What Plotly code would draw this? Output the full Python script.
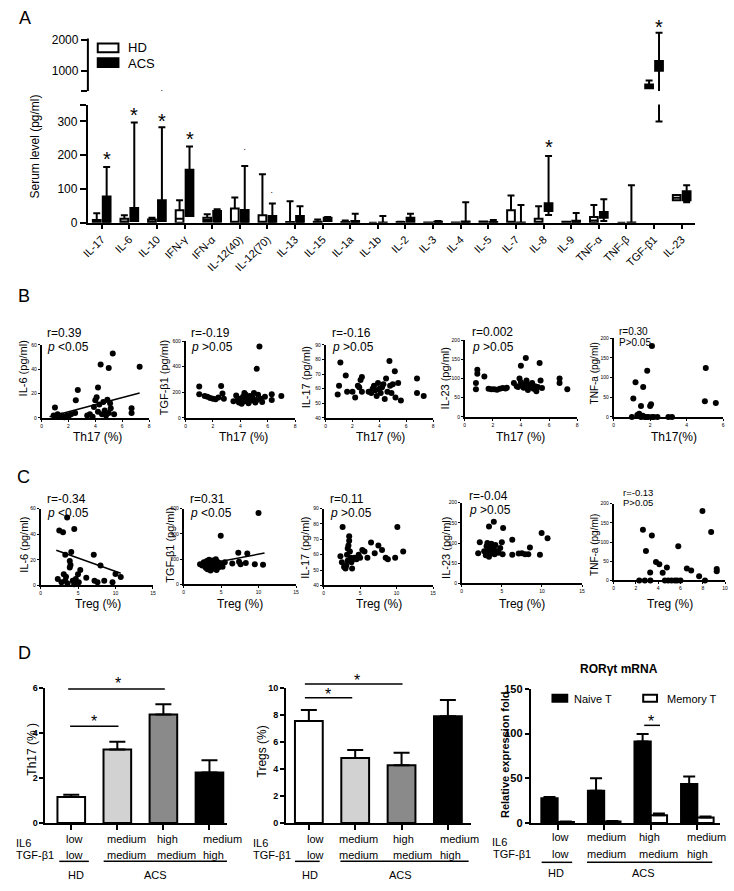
import plotly.graph_objects as go

W, H = 734, 891
FONT = "Liberation Sans, Arial, Helvetica, sans-serif"


def fx(p):
    return p / W


def fy(p):
    return 1 - p / H


# ---------------- Panel A data ----------------
cytokines = ["IL-17", "IL-6", "IL-10", "IFN-γ", "IFN-α", "IL-12(40)", "IL-12(70)", "IL-13", "IL-15",
             "IL-1a", "IL-1b", "IL-2", "IL-3", "IL-4", "IL-5", "IL-7", "IL-8", "IL-9", "TNF-α",
             "TNF-β", "TGF-β1", "IL-23"]
hd_lower = [0, 0, 0, 0, 3, 0, 0, 0, 0, 0, 0, 0, 0, 0, 0, 0, 0, 0, 0, 0, 440, 67]
hd_q1 = [0, 0, 0, 0, 3, 0, 0, 0, 0, 0, 0, 0, 0, 0, 0, 0, 0, 0, 0, 0, 440, 67]
hd_median = [0, 4, 3, 12, 8, 0, 0, 0, 0, 0, 0, 0, 0, 0, 0, 0, 0, 0, 7, 0, 500, 74]
hd_q3 = [8, 12, 10, 37, 15, 42, 22, 2, 3, 2, 0, 2, 1, 1, 4, 37, 12, 3, 17, 0, 560, 82]
hd_upper = [28, 22, 15, 67, 25, 75, 144, 64, 10, 7, 0, 3, 1, 1, 4, 81, 49, 3, 53, 0, 690, 82]
acs_lower = [0, 5, 5, 20, 0, 0, 0, 0, 5, 0, 0, 2, 0, 0, 0, 0, 23, 0, 5, 0, 300, 61]
acs_q1 = [0, 5, 5, 20, 3, 0, 0, 0, 5, 0, 0, 2, 0, 0, 0, 0, 35, 0, 15, 0, 1000, 67]
acs_median = [30, 15, 20, 80, 20, 15, 8, 8, 10, 2, 0, 6, 1, 1, 1, 0, 45, 2, 22, 0, 1150, 80]
acs_q3 = [78, 44, 67, 157, 35, 38, 20, 20, 15, 5, 1, 15, 3, 4, 2, 1, 58, 6, 32, 1, 1310, 93]
acs_upper = [165, 297, 283, 226, 40, 168, 57, 49, 17, 27, 20, 27, 5, 61, 8, 53, 198, 29, 70, 111, 2219, 111]
star_cytokines = ["IL-17", "IL-6", "IL-10", "IFN-γ", "IL-8", "TGF-β1"]
star_values = [190, 320, 301, 248, 224, 2406]
star_axis = ["y", "y", "y", "y", "y", "y2"]
outlier_cytokines = ["IL-10", "IL-12(40)", "IL-12(70)"]
outlier_values = [365, 218, 90]
outlier_axis = ["y2", "y", "y"]

# ---------------- Panel B data (x = Th17 %) ----------------
b1_th17 = [1.0, 0.9, 1.1, 1.2, 1.4, 1.5, 1.7, 1.9, 2.0, 2.2, 2.5, 2.55, 2.7, 3.4, 3.6, 3.8, 3.9, 4.0, 4.1,
           4.2, 4.2, 4.3, 4.4, 4.5, 4.6, 4.7, 4.8, 4.9, 5.0, 5.0, 5.1, 5.15, 5.3, 5.4, 6.7, 6.7, 7.3]
b1_il6 = [8.5, 2, 1, 3, 1, 2, 0.5, 2, 1, 3, 4, 14.5, 23, 2, 3, 1, 9, 14.5, 17, 25, 5, 11, 44, 3, 13, 6, 2,
          15, 41, 4, 12, 8, 53, 3, 8, 4, 42]
b1_fit_th17 = [0.6, 7.3]
b1_fit_il6 = [1.0, 20.5]
b2_th17 = [1.0, 1.0, 1.4, 1.6, 1.8, 2.0, 2.2, 2.4, 2.6, 2.7, 2.8, 3.5, 3.7, 3.8, 3.9, 4.0, 4.1, 4.2, 4.3,
           4.3, 4.4, 4.5, 4.6, 4.7, 4.8, 4.9, 5.0, 5.1, 5.2, 5.2, 5.3, 5.4, 5.5, 5.6, 5.8, 6.3, 6.3, 7.0]
b2_tgf = [245, 185, 170, 165, 155, 150, 145, 160, 250, 190, 150, 130, 175, 140, 120, 150, 110, 165, 195,
          130, 180, 145, 115, 170, 135, 155, 195, 120, 383, 140, 180, 557, 150, 125, 165, 185, 140, 170]
b3_th17 = [0.9, 1.0, 1.1, 1.5, 1.6, 2.0, 2.2, 2.4, 2.5, 2.6, 2.7, 2.7, 3.2, 3.4, 3.5, 3.6, 3.7, 3.8, 3.9,
           4.0, 4.1, 4.2, 4.3, 4.4, 4.5, 4.6, 4.75, 4.8, 4.9, 5.0, 5.15, 5.2, 5.4, 5.6, 6.8, 6.8, 7.3]
b3_il17 = [56, 62, 78, 69, 58, 58, 54, 62, 61, 66, 58, 68, 58, 57, 60, 62, 59, 55, 64, 60, 57, 61, 63, 53,
           67, 58, 79, 62, 57, 63, 72, 54, 64, 52, 67, 57, 55]
b4_th17 = [0.8, 0.9, 0.9, 0.8, 1.4, 1.7, 1.9, 2.1, 2.3, 2.5, 2.7, 2.9, 3.0, 3.5, 3.7, 3.8, 3.9, 4.0, 4.0,
           4.1, 4.2, 4.3, 4.35, 4.4, 4.5, 4.6, 4.7, 4.8, 4.9, 5.0, 5.1, 5.2, 5.33, 5.4, 5.5, 6.75, 6.75, 7.3]
b4_il23 = [88, 112, 123, 72, 105, 73, 72, 72, 71, 73, 75, 74, 76, 88, 80, 78, 100, 133, 90, 85, 76, 82,
           153, 95, 70, 84, 78, 88, 73, 80, 67, 78, 140, 95, 75, 100, 88, 72]
b5_th17 = [1.0, 1.08, 1.2, 1.3, 1.4, 1.5, 1.5, 1.6, 1.62, 1.7, 1.8, 1.84, 1.9, 2.0, 2.05, 2.1, 2.1, 2.2,
           2.4, 3.0, 3.2, 5.0, 5.05, 5.6]
b5_tnf = [0, 47, 88, 5, 8, 0, 28, 3, 76, 0, 0, 117, 0, 28, 32, 180, 0, 0, 0, 0, 0, 40, 124, 35]

# ---------------- Panel C data (x = Treg %) ----------------
c1_treg = [2.5, 3.0, 3.55, 4.5, 4.1, 3.3, 3.9, 4.0, 3.9, 7.1, 8.0, 5.3, 10.0, 10.7, 3.1, 3.4, 3.3, 4.3,
           4.7, 5.0, 5.1, 2.3, 2.8, 6.1, 7.2, 7.6, 8.5, 9.6, 4.5, 3.6]
c1_il6 = [42.8, 41.5, 53, 44, 26, 24, 19, 16, 14, 24, 15.6, 12, 9, 6.5, 8.7, 6.7, 3.7, 3.7, 5, 8.7, 2.4,
          5, 2.4, 6, 3.6, 2.4, 3.6, 2.4, 1, 1.5]
c1_fit_treg = [2.1, 10.7]
c1_fit_il6 = [27.5, 9.5]
c2_treg = [10.0, 4.96, 2.2, 2.5, 2.7, 2.9, 3.0, 3.1, 3.2, 3.3, 3.4, 3.5, 3.6, 3.7, 3.8, 3.9, 4.0, 4.1,
           4.2, 4.3, 4.4, 4.5, 4.6, 4.7, 4.8, 5.0, 5.2, 5.5, 6.5, 7.3, 7.4, 7.6, 8.3, 8.5, 9.5, 10.6]
c2_tgf = [565, 385, 160, 150, 175, 140, 130, 185, 120, 165, 195, 150, 110, 175, 135, 190, 160, 125, 145,
          200, 115, 180, 150, 135, 170, 155, 140, 175, 165, 250, 180, 160, 170, 245, 160, 155]
c2_fit_treg = [2.2, 10.8]
c2_fit_tgf = [152, 248]
c3_treg = [2.6, 2.3, 2.5, 2.8, 3.0, 3.1, 3.2, 3.3, 3.4, 3.5, 3.6, 3.7, 3.8, 3.9, 4.0, 4.2, 4.5, 4.8, 5.0,
           5.3, 5.6, 6.0, 6.5, 7.0, 7.5, 8.0, 8.5, 8.8, 9.8, 10.1, 10.9, 3.5, 3.3]
c3_il17 = [78, 59, 55, 52, 51, 53, 60, 64, 66, 72, 62, 58, 55, 51, 57, 58, 57, 60, 58, 63, 62, 58, 68, 61,
           66, 63, 58, 57, 58, 78, 62, 69, 56]
c4_treg = [2.05, 2.25, 3.4, 4.0, 5.16, 2.8, 3.0, 3.1, 3.2, 3.3, 3.4, 3.5, 3.6, 3.7, 3.8, 3.9, 4.0, 4.1,
           4.2, 4.4, 4.6, 4.8, 5.0, 5.1, 6.3, 6.3, 7.1, 7.5, 7.9, 8.3, 8.5, 9.75, 9.96, 10.7]
c4_il23 = [75, 102, 141, 153, 137, 80, 70, 92, 100, 85, 66, 78, 90, 98, 82, 75, 88, 72, 95, 80, 76, 88,
           102, 72, 108, 71, 74, 75, 72, 72, 89, 71, 125, 112]
c5_treg = [2.63, 2.9, 3.43, 3.28, 3.8, 4.1, 4.4, 4.78, 5.8, 6.57, 6.96, 7.67, 7.97, 8.75, 9.25, 9.25,
           2.3, 2.8, 3.3, 4.6, 4.9, 5.2, 5.5, 5.7, 6.0, 8.2]
c5_tnf = [132, 77, 117, 21, 48, 42, 20, 34, 89, 31, 26, 11, 181, 126, 30, 24, 0, 0, 0, 0, 0, 0, 0, 0, 0, 0]

# ---------------- Panel D data ----------------
d_groups = [0, 1, 2, 3]
d_il6 = ["low", "medium", "high", "medium"]
d_tgf = ["low", "medium", "medium", "high"]
th17_mean = [1.15, 3.26, 4.82, 2.24]
th17_sem = [0.1, 0.35, 0.45, 0.54]
treg_mean = [7.55, 4.8, 4.27, 7.9]
treg_sem = [0.82, 0.6, 0.93, 1.2]
d_colors = ["white", "#d2d2d2", "#8a8a8a", "black"]
ror_naive = [27.5, 36, 91, 43.5]
ror_naive_sem = [1.5, 14, 8.5, 8.5]
ror_memory = [1.0, 1.5, 8.7, 6.0]
ror_memory_sem = [0.5, 0.5, 1.8, 1.2]

fig = go.Figure()
annotations = []
shapes = []


def txt(x, y, s, size=12, xanchor="center", yanchor="middle", angle=0, **kw):
    annotations.append(dict(x=fx(x), y=fy(y), xref="paper", yref="paper", text=s, showarrow=False,
                            font=dict(size=size, family=FONT, color="black"),
                            xanchor=xanchor, yanchor=yanchor, textangle=angle, **kw))


def pline(x0, y0, x1, y1, w=1.5, color="black"):
    shapes.append(dict(type="line", xref="paper", yref="paper", x0=fx(x0), y0=fy(y0), x1=fx(x1), y1=fy(y1),
                       line=dict(color=color, width=w)))


def prect(x0, y0, x1, y1, fill):
    shapes.append(dict(type="rect", xref="paper", yref="paper", x0=fx(x0), y0=fy(y0), x1=fx(x1), y1=fy(y1),
                       line=dict(color="black", width=2), fillcolor=fill))


# ---------------- Panel A traces ----------------
cat_index = list(range(len(cytokines)))
BOX_OFF, BOX_W = 0.18, 0.28
hd_pos = [i - BOX_OFF for i in cat_index]
acs_pos = [i + BOX_OFF for i in cat_index]
for ax_x, ax_y in (("x", "y"), ("x2", "y2")):
    fig.add_trace(go.Box(name="HD", x=hd_pos, q1=hd_q1, median=hd_median, q3=hd_q3, width=BOX_W,
                         lowerfence=hd_lower, upperfence=hd_upper, fillcolor="white",
                         line=dict(color="black", width=2), whiskerwidth=0.9, boxpoints=False,
                         xaxis=ax_x, yaxis=ax_y, showlegend=False, hoverinfo="skip"))
    fig.add_trace(go.Box(name="ACS", x=acs_pos, q1=acs_q1, median=acs_median, q3=acs_q3, width=BOX_W,
                         lowerfence=acs_lower, upperfence=acs_upper, fillcolor="black",
                         line=dict(color="black", width=2), whiskerwidth=0.9, boxpoints=False,
                         xaxis=ax_x, yaxis=ax_y, showlegend=False, hoverinfo="skip"))

for c, v, a in zip(star_cytokines, star_values, star_axis):
    annotations.append(dict(x=cytokines.index(c) + BOX_OFF, y=v, xref="x" if a == "y" else "x2", yref=a,
                            text="*", showarrow=False, font=dict(size=20, family=FONT, color="black")))
for c, v, a in zip(outlier_cytokines, outlier_values, outlier_axis):
    annotations.append(dict(x=cytokines.index(c) + BOX_OFF, y=v, xref="x" if a == "y" else "x2", yref=a,
                            text="•", showarrow=False, font=dict(size=4, family=FONT, color="black")))

axA = dict(showgrid=False, zeroline=False, linecolor="black", tickcolor="black")
layout = dict(
    width=W, height=H, autosize=False, margin=dict(l=0, r=0, t=0, b=0),
    paper_bgcolor="white", plot_bgcolor="white", showlegend=False,
    font=dict(family=FONT, color="black"),
    boxmode="overlay",
    barmode="group", bargap=0.3, bargroupgap=0,
)
layout["xaxis"] = dict(axA, domain=[fx(82), fx(698)], range=[-0.5, 21.5], tickvals=cat_index,
                       ticktext=cytokines, showline=True, linewidth=2,
                       ticks="outside", ticklen=4, tickwidth=1.5, tickangle=-45, tickfont=dict(size=11),
                       anchor="y")
layout["yaxis"] = dict(axA, domain=[fy(220), fy(100)], range=[0, 350], tickvals=[0, 100, 200, 300, 350],
                       ticktext=["0", "100", "200", "300", ""], showline=True, linewidth=2, ticks="outside",
                       ticklen=6, tickwidth=2, tickfont=dict(size=12), anchor="x")
layout["xaxis2"] = dict(domain=[fx(82), fx(698)], range=[-0.5, 21.5], visible=False, anchor="y2")
layout["yaxis2"] = dict(axA, domain=[fy(86.3), fy(20)], range=[350, 2442], tickvals=[350, 1000, 2000],
                        ticktext=["", "1000", "2000"], showline=False, ticks="outside", ticklen=6,
                        tickwidth=2, tickfont=dict(size=12), anchor="x2")
pline(82, 86.3, 82, 33, w=2)
txt(28, 143, "Serum level (pg/ml)", size=12, angle=-90)
prect(92, 38, 113, 47, "white")
prect(92, 53, 113, 62, "black")
txt(121, 42.5, "HD", size=13, xanchor="left")
txt(121, 58, "ACS", size=13, xanchor="left")
txt(18, 12, "A", size=18)

# ---------------- Panels B and C ----------------
sc_axis = dict(showline=True, linecolor="black", linewidth=1.5, ticks="outside", ticklen=2, tickwidth=1,
               tickcolor="black", tickfont=dict(size=5), showgrid=False, zeroline=False)

scatter_panels = [
    # (axis index, x data, y data, x px domain, y px domain (top, bottom), x range, y range, x ticks, y ticks)
    (3, b1_th17, b1_il6, (35, 144), (344, 418), [0, 8], [0, 60], [0, 2, 4, 6, 8], [0, 20, 40, 60]),
    (4, b2_th17, b2_tgf, (181, 292), (340, 418), [0, 8], [0, 600], [0, 2, 4, 6, 8], [0, 200, 400, 600]),
    (5, b3_th17, b3_il17, (323, 432), (344, 418), [0, 8], [40, 90], [0, 2, 4, 6, 8], [40, 50, 60, 70, 80, 90]),
    (6, b4_th17, b4_il23, (464, 578), (339, 417), [0, 8], [0, 200], [0, 2, 4, 6, 8], [0, 50, 100, 150, 200]),
    (7, b5_th17, b5_tnf, (615, 726), (337, 417), [0, 6], [0, 200], [0, 2, 4, 6], [0, 50, 100, 150, 200]),
    (8, c1_treg, c1_il6, (34, 148), (510, 588), [0, 15], [0, 60], [0, 5, 10, 15], [0, 20, 40, 60]),
    (9, c2_treg, c2_tgf, (179, 293), (510, 587), [0, 15], [0, 600], [0, 5, 10, 15], [0, 200, 400, 600]),
    (10, c3_treg, c3_il17, (321, 432), (510, 588), [0, 15], [40, 90], [0, 5, 10, 15], [40, 50, 60, 70, 80, 90]),
    (11, c4_treg, c4_il23, (461, 583), (504, 586), [0, 15], [0, 200], [0, 5, 10, 15], [0, 50, 100, 150, 200]),
    (12, c5_treg, c5_tnf, (615, 728), (505, 583), [0, 10], [0, 200], [0, 2, 4, 6, 8, 10], [0, 50, 100, 150, 200]),
]
for i, xs, ys, xd, yd, xr, yr, xt, yt in scatter_panels:
    fig.add_trace(go.Scatter(x=xs, y=ys, mode="markers", marker=dict(size=6, color="black"),
                             xaxis=f"x{i}", yaxis=f"y{i}", cliponaxis=False, hoverinfo="skip"))
    layout[f"xaxis{i}"] = dict(sc_axis, domain=[fx(xd[0]), fx(xd[1])], range=xr, tickvals=xt, anchor=f"y{i}")
    layout[f"yaxis{i}"] = dict(sc_axis, domain=[fy(yd[1]), fy(yd[0])], range=yr, tickvals=yt, anchor=f"x{i}")

for i, fxs, fys in ((3, b1_fit_th17, b1_fit_il6), (8, c1_fit_treg, c1_fit_il6), (9, c2_fit_treg, c2_fit_tgf)):
    fig.add_trace(go.Scatter(x=fxs, y=fys, mode="lines", line=dict(color="black", width=1.5),
                             xaxis=f"x{i}", yaxis=f"y{i}", hoverinfo="skip"))

ytitles_B = [(16, 368, "IL-6 (pg/ml)", 11), (160, 377, "TGF-β1 (pg/ml)", 11), (304, 377, "IL-17 (pg/ml)", 11),
             (445, 378, "IL-23 (pg/ml)", 11), (596, 373, "TNF-a (pg/ml)", 10)]
ytitles_C = [(17, 547, "IL-6 (pg/ml)", 11), (165, 547, "TGF-β1 (pg/ml)", 11), (302, 550, "IL-17 (pg/ml)", 11),
             (445, 550, "IL-23 (pg/ml)", 11), (595, 547, "TNF-a (pg/ml)", 10)]
for x, y, s, sz in ytitles_B + ytitles_C:
    txt(x, y, s, size=sz, angle=-90)
for x, s in ((92, "Th17 (%)"), (240, "Th17 (%)"), (379, "Th17 (%)"), (521, "Th17 (%)"), (676, "Th17(%)")):
    txt(x, 437, s, size=12)
for x in (92, 236, 377, 522, 672):
    txt(x, 607, "Treg (%)", size=12)

stats = [
    (39, 332, 346, "r=0.39", "<i>p</i> <0.05", 12), (185, 332, 346, "r=-0.19", "<i>p</i> >0.05", 12),
    (327, 332, 346, "r=-0.16", "<i>p</i> >0.05", 12), (469, 331, 346, "r=0.002", "<i>p</i> >0.05", 12),
    (618, 330, 341, "r=0.30", "P>0.05", 10),
    (39, 500, 514, "r=-0.34", "<i>p</i> <0.05", 12), (184, 500, 514, "r=0.31", "<i>p</i> <0.05", 12),
    (325, 500, 514, "r=0.11", "<i>p</i> >0.05", 12), (466, 497, 511, "r=-0.04", "<i>p</i> >0.05", 12),
    (622, 494, 504, "r=-0.13", "P>0.05", 9.5),
]
for x, y1, y2, s1, s2, sz in stats:
    txt(x, y1, s1, size=sz, xanchor="left")
    txt(x, y2, s2, size=sz, xanchor="left")
txt(17, 294, "B", size=18)
txt(17, 478, "C", size=18)

# ---------------- Panel D ----------------
d_xaxis = dict(showline=True, linecolor="black", linewidth=2, ticks="outside", ticklen=5, tickwidth=1.5,
               tickcolor="black", showticklabels=False, showgrid=False, zeroline=False, tickvals=d_groups)
d_yaxis = dict(showline=True, linecolor="black", linewidth=2, ticks="outside", ticklen=4, tickwidth=1.5,
               tickcolor="black", tickfont=dict(size=9, weight="bold"), showgrid=False, zeroline=False)

fig.add_trace(go.Bar(x=d_groups, y=th17_mean, width=0.6, marker=dict(color=d_colors, line=dict(color="black", width=2)),
                     error_y=dict(type="data", array=th17_sem, arrayminus=[0] * 4, symmetric=False,
                                  color="black", thickness=2, width=8),
                     xaxis="x13", yaxis="y13", hoverinfo="skip"))
fig.add_trace(go.Bar(x=d_groups, y=treg_mean, width=0.6, marker=dict(color=d_colors, line=dict(color="black", width=2)),
                     error_y=dict(type="data", array=treg_sem, arrayminus=[0] * 4, symmetric=False,
                                  color="black", thickness=2, width=8),
                     xaxis="x14", yaxis="y14", hoverinfo="skip"))
fig.add_trace(go.Bar(x=d_groups, y=ror_naive, name="Naive T", marker=dict(color="black", line=dict(color="black", width=2)),
                     error_y=dict(type="data", array=ror_naive_sem, arrayminus=[0] * 4, symmetric=False,
                                  color="black", thickness=2, width=6),
                     xaxis="x15", yaxis="y15", hoverinfo="skip"))
fig.add_trace(go.Bar(x=d_groups, y=ror_memory, name="Memory T", marker=dict(color="white", line=dict(color="black", width=2)),
                     error_y=dict(type="data", array=ror_memory_sem, arrayminus=[0] * 4, symmetric=False,
                                  color="black", thickness=2, width=6),
                     xaxis="x15", yaxis="y15", hoverinfo="skip"))

layout["xaxis13"] = dict(d_xaxis, domain=[fx(39), fx(223)], range=[-0.56, 3.38], anchor="y13")
layout["yaxis13"] = dict(d_yaxis, domain=[fy(829), fy(692)], range=[0, 6], tickvals=[0, 2, 4, 6], anchor="x13")
layout["xaxis14"] = dict(d_xaxis, domain=[fx(283), fx(470)], range=[-0.49, 3.49], anchor="y14")
layout["yaxis14"] = dict(d_yaxis, domain=[fy(829), fy(692)], range=[0, 10], tickvals=[0, 2, 4, 6, 8, 10], anchor="x14")
layout["xaxis15"] = dict(d_xaxis, domain=[fx(531), fx(723)], range=[-0.577, 3.49], anchor="y15")
layout["yaxis15"] = dict(d_yaxis, domain=[fy(829), fy(693)], range=[0, 150], tickvals=[0, 50, 100, 150],
                         tickfont=dict(size=11, weight="bold"), anchor="x15")

# significance brackets (pixel positions)
brackets = [  # (x0, x1, y line, x star, y star)
    (62, 160, 693, 113, 685), (64, 113, 731, 88, 723),
    (302, 350, 702, 325, 696), (302, 401, 688, 355, 681),
    (646, 662, 730, 653, 723),
]
for x0, x1, yl, xs, ys in brackets:
    pline(x0, yl, x1, yl, w=1.5)
    txt(xs, ys + 3, "*", size=16)

txt(25, 754, "Th17 (% )", size=12, angle=-90)
txt(258, 756, "Tregs (%)", size=12, angle=-90)
txt(505, 760, "<b>Relative expression fold</b>", size=11, angle=-90)
txt(620, 673, "<b>RORγt mRNA</b>", size=12)

# D3 legend
prect(553, 699, 568, 706, "black")
prect(645, 699, 659, 706, "white")
txt(573, 703, "Naive T", size=11, xanchor="left")
txt(667, 703, "Memory T", size=11, xanchor="left")

# condition labels beneath D panels
d_label_sets = [
    # (IL6 x, TGF x, IL6 y, row1 y, row2 y, column left positions, HD line, ACS line, HD x, ACS x, line y, group y)
    (7, 7, 849, 845, 862, [58, 99, 150, 197], (53, 83), (98, 223), 70, 151, 868, 882),
    (247, 247, 849, 845, 862, [302, 335, 389, 437], (292, 317), (338, 468), 307, 399, 868, 882),
    (490, 491, 848, 843, 861, [550, 586, 639, 687], (542, 573), (588, 715), 557, 645, 869, 880),
]
for il6x, tgfx, il6y, r1, r2, cols, hdl, acsl, hdx, acsx, ly, gy in d_label_sets:
    txt(il6x, il6y, "IL6", size=11, xanchor="left")
    txt(tgfx, r2, "TGF-β1", size=11, xanchor="left")
    for cx, a, b in zip(cols, d_il6, d_tgf):
        txt(cx, r1, a, size=11, xanchor="left")
        txt(cx, r2, b, size=11, xanchor="left")
    pline(hdl[0], ly, hdl[1], ly, w=1.5)
    pline(acsl[0], ly, acsl[1], ly, w=1.5)
    txt(hdx, gy, "HD", size=11)
    txt(acsx, gy, "ACS", size=11)
txt(18, 657, "D", size=18)

layout["annotations"] = annotations
layout["shapes"] = shapes
fig.update_layout(**layout)

fig.write_html("out.html", config={"displayModeBar": False},
               post_script="document.body.style.margin='0px';")
